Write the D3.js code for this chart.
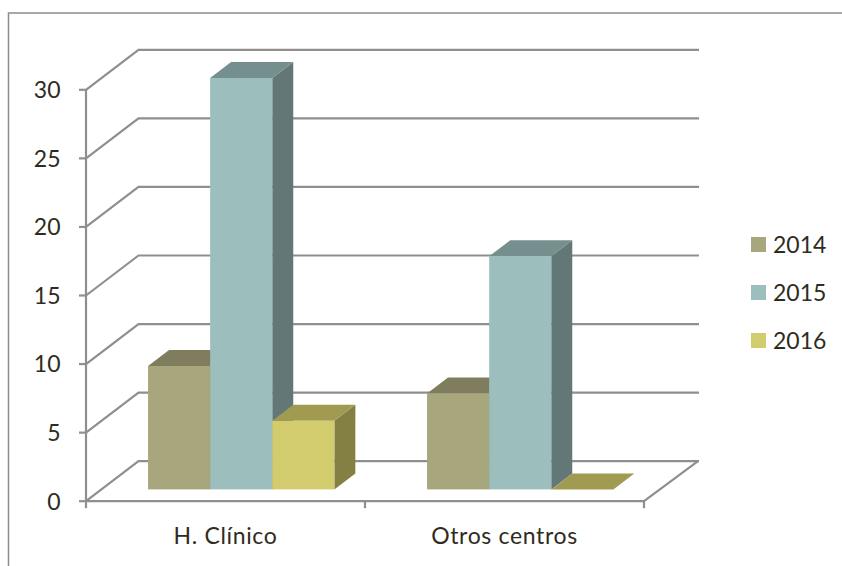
<!DOCTYPE html>
<html>
<head>
<meta charset="utf-8">
<script src="https://cdn.jsdelivr.net/npm/d3@7/dist/d3.min.js"></script>
<style>
html,body{margin:0;padding:0;background:#fff}
svg{display:block}
text{font-family:Lato,"Open Sans",sans-serif;fill:#2f2b20}
</style>
</head>
<body>
<svg id="chart" width="842" height="566"></svg>
<script>
// Series and categories
const categories = ["H. Clínico", "Otros centros"];
const years = ["2014", "2015", "2016"];
const values2014 = [9, 7];
const values2015 = [30, 17];
const values2016 = [5, 0];
const yTicks = [0, 5, 10, 15, 20, 25, 30];

// Face colours per series
const frontColors = ["#a8a67c", "#9cbfbe", "#d3cc6e"];
const topColors = ["#7f7d5d", "#748f8e", "#a09b50"];
const sideColors = ["#6f6d50", "#627776", "#848043"];
const lineColor = "#8f8f8f";

const series = [values2014, values2015, values2016];
const svg = d3.select("#chart");

// Front plane of the 3D box and its depth offset
const x = d3.scaleBand().domain(categories).range([86, 644]);
const y = d3.scaleLinear().domain([0, 30]).range([501.2, 89.8]);
const wallDx = 52.5, wallDy = -40;
const wallRightDx = 55, floorRightDx = 54;

// Bars stand part way into the floor and have their own depth
const barInsetDx = 15.7, barInsetDy = -11.8;
const barDx = 21, barDy = -16;
const barWidth = 62.1;

// Chart frame, open at the right and bottom edges
svg.append("path")
  .attr("d", "M8.5,566V13H842")
  .attr("fill", "none").attr("stroke", "#8c8c8c").attr("stroke-width", 1.5);

// Wall gridlines with their diagonal run along the side wall
const grid = svg.append("g").attr("fill", "none").attr("stroke", lineColor).attr("stroke-width", 2.2);
yTicks.forEach(t => {
  grid.append("path").attr("d",
    `M${x.range()[0]},${y(t)}L${x.range()[0] + wallDx},${y(t) + wallDy}H${x.range()[1] + wallRightDx}`);
});
// Floor edges
grid.append("path").attr("d",
  `M${x.range()[0]},${y(0)}H${x.range()[1]}L${x.range()[1] + floorRightDx},${y(0) + wallDy}`);

// Value axis line and ticks
grid.append("path").attr("d", `M${x.range()[0]},${y(30)}V${y(0)}`);
yTicks.forEach(t => {
  grid.append("path").attr("d", `M${x.range()[0] - 7},${y(t)}H${x.range()[0]}`);
});
// Category boundary ticks
[x.range()[0], x.range()[0] + x.step(), x.range()[1]].forEach(px => {
  grid.append("path").attr("d", `M${px},${y(0)}V${y(0) + 7}`);
});

// Bars: one front, one top and one side face each
const bars = svg.append("g");
series.forEach((vals, s) => {
  vals.forEach((v, c) => {
    const groupWidth = barWidth * series.length;
    const left = x(categories[c]) + (x.bandwidth() - groupWidth) / 2 + barWidth * s + barInsetDx;
    const right = left + barWidth;
    const base = y(0) + barInsetDy;
    const top = base - (y(0) - y(v));
    const g = bars.append("g");
    if (v > 0) {
      g.append("path").attr("fill", sideColors[s])
        .attr("d", `M${right},${base}L${right + barDx},${base + barDy}V${top + barDy}L${right},${top}Z`);
    }
    g.append("path").attr("fill", topColors[s])
      .attr("d", `M${left},${top}L${left + barDx},${top + barDy}H${right + barDx}L${right},${top}Z`);
    if (v > 0) {
      g.append("rect").attr("fill", frontColors[s])
        .attr("x", left).attr("y", top).attr("width", barWidth).attr("height", base - top);
    }
  });
});

// Value axis labels
svg.append("g").selectAll("text").data(yTicks).join("text")
  .attr("x", 60.5).attr("y", d => y(d) + 8.3)
  .attr("text-anchor", "end").attr("font-size", 23)
  .text(d => d);

// Category labels
svg.append("g").selectAll("text").data(categories).join("text")
  .attr("x", d => x(d) + x.bandwidth() / 2).attr("y", 544)
  .attr("text-anchor", "middle").attr("font-size", 23).attr("letter-spacing", 0.65)
  .text(d => d);

// Legend
const legend = svg.append("g").selectAll("g").data(years).join("g")
  .attr("transform", (d, i) => `translate(751,${237 + i * 48})`);
legend.append("rect").attr("width", 15).attr("height", 15).attr("fill", (d, i) => frontColors[i]);
legend.append("text").attr("x", 22).attr("y", 15.6).attr("font-size", 23).text(d => d);
</script>
</body>
</html>
